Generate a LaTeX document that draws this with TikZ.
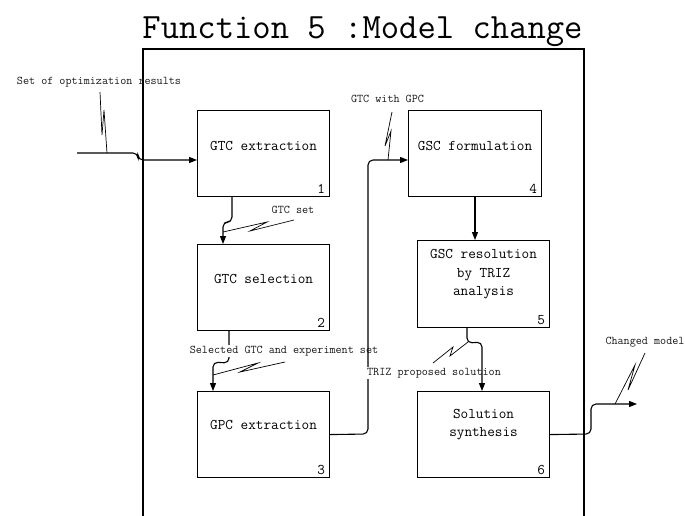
\documentclass[tikz,border=0pt]{standalone}
\usetikzlibrary{arrows.meta,calc}
\begin{document}
\begin{tikzpicture}[x=1pt,y=1pt,
  box/.style={draw,line width=1.1pt,minimum width=132pt,minimum height=86pt,anchor=north west,inner sep=0pt},
  boxtext/.style={font=\fontsize{14.8}{18.5}\selectfont\ttfamily,align=center,inner sep=0pt,text=black},
  num/.style={font=\fontsize{14.8}{18}\selectfont\ttfamily,anchor=base east,inner sep=0pt,text=black},
  lbl/.style={font=\fontsize{11.8}{14}\selectfont\ttfamily,inner sep=1pt,text=black!90},
  conn/.style={line width=1.1pt,rounded corners=5pt},
  arr/.style={-{Triangle[length=8pt,width=6pt]}},
  lead/.style={line width=0.7pt},
]
\useasboundingbox (0,0) rectangle (685,-515);
% frame
\draw[line width=1.1pt] (143,-530) -- (143,-49) -- (584,-49) -- (584,-530);
% title
\node[font=\fontsize{35.6}{40}\selectfont\ttfamily,anchor=base,inner sep=0pt,text=black] (title) at (362.5,-38) {Function 5 :Model change};
% boxes
\node[box] (b1) at (197,-110) {};
\node[box] (b2) at (197,-244) {};
\node[box] (b3) at (197,-391) {};
\node[box,minimum width=133pt] (b4) at (408,-110) {};
\node[box,minimum height=87pt] (b5) at (417,-240) {};
\node[box] (b6) at (417,-391) {};
% box texts
\node[boxtext] (t1) at ($(b1.center)+(0,8)$) {GTC extraction};
\node[boxtext] (t2) at ($(b2.center)+(0,9)$) {GTC selection};
\node[boxtext] (t3) at ($(b3.center)+(0,10)$) {GPC extraction};
\node[boxtext] (t4) at ($(b4.center)+(0,8)$) {GSC formulation};
\node[boxtext] (t5) at ($(b5.center)+(0,9.5)$) {GSC resolution\\by TRIZ\\analysis};
\node[boxtext] (t6) at ($(b6.center)+(0,10)$) {Solution\\synthesis};
% numbers
\node[num] (n1) at ($(b1.south east)+(-5,3.5)$) {1};
\node[num] (n2) at ($(b2.south east)+(-5,3.5)$) {2};
\node[num] (n3) at ($(b3.south east)+(-5,3.5)$) {3};
\node[num] (n4) at ($(b4.south east)+(-5,3.5)$) {4};
\node[num] (n5) at ($(b5.south east)+(-5,3.5)$) {5};
\node[num] (n6) at ($(b6.south east)+(-5,3.5)$) {6};
% input
\coordinate (in) at (77,-153);
\draw[conn,arr] (in) -- (138,-153) -- (138,-160) -- ($(b1.north west)+(0,-50)$);
\node[lbl] (l1) at (99,-82) {Set of optimization results};
\draw[lead] (107,-153) -- (104,-110) -- (102,-135) -- (100,-92);
% 1 -> 2
\draw[conn,arr] ($(b1.south west)+(35,0)$) -- ($(b1.south west)+(35,-25)$) -- ($(b2.north west)+(26,22)$) -- ($(b2.north west)+(26,0)$);
\node[lbl] (l2) at (293,-210) {GTC set};
\draw[lead] (223,-232) -- (267,-222) -- (250,-231) -- (294,-220);
% 2 -> 3
\draw[conn,arr] ($(b2.south west)+(32,0)$) -- ($(b2.south west)+(32,-32)$) -- ($(b3.north west)+(16,29)$) -- ($(b3.north west)+(16,0)$);
\node[lbl,fill=white] (l3) at (284,-351) {Selected GTC and experiment set};
\draw[lead] (213,-375) -- (258,-363) -- (240,-372) -- (285,-362);
% 3 -> 4
\draw[conn,arr] (b3.east) -- (368,-434) -- (368,-160) -- ($(b4.north west)+(0,-50)$);
\node[lbl] (l4) at (387.5,-99) {GTC with GPC};
\draw[lead] (388,-160) -- (391,-131) -- (385,-146) -- (392,-112);
% 4 -> 5
\draw[conn,arr] ($(b4.south west)+(67,0)$) -- ($(b5.north west)+(58,0)$);
% 5 -> 6
\node[lbl,fill=white] (l5) at (434,-373) {TRIZ proposed solution};
\draw[conn,arr] ($(b5.south west)+(50,0)$) -- ($(b5.south west)+(50,-15)$) -- ($(b6.north west)+(65,49)$) -- ($(b6.north west)+(65,0)$);
\draw[lead] (433,-363) -- (453,-347) -- (450,-356) -- (468,-342);
% output
\coordinate (out) at (637,-404);
\draw[conn,arr] (b6.east) -- (591,-434) -- (591,-404) -- (out);
\node[lbl] (l6) at (645,-342) {Changed model};
\draw[lead] (615,-404) -- (635,-365) -- (628,-390) -- (645,-353);
\end{tikzpicture}
\end{document}
